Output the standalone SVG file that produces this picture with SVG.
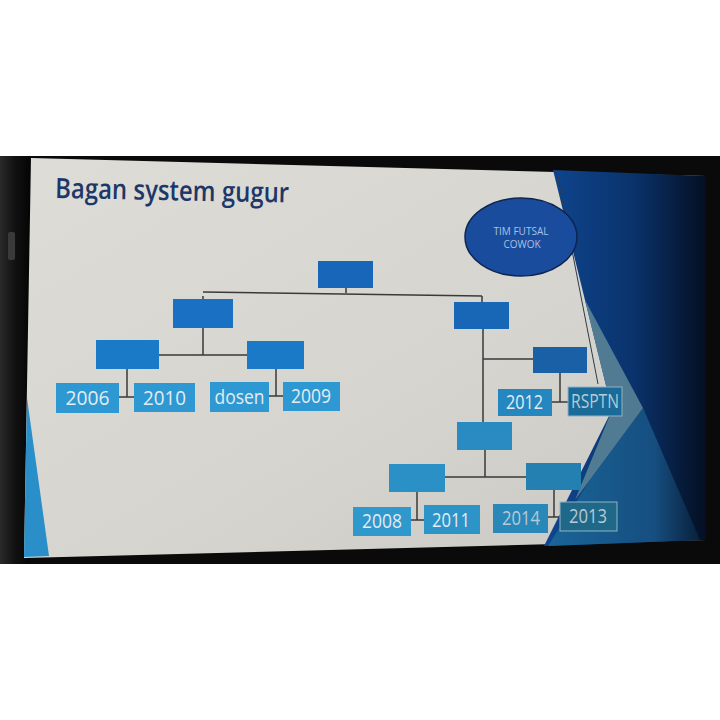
<svg xmlns="http://www.w3.org/2000/svg" width="720" height="720" viewBox="0 0 720 720">
<defs>
<linearGradient id="slideBg" x1="0" y1="0" x2="1" y2="1">
<stop offset="0" stop-color="#dedcd7"/>
<stop offset="0.6" stop-color="#d6d4cf"/>
<stop offset="1" stop-color="#c9c7c1"/>
</linearGradient>
<linearGradient id="darkBlue" x1="0" y1="0" x2="1" y2="0">
<stop offset="0" stop-color="#0f4690"/>
<stop offset="0.55" stop-color="#0a336c"/>
<stop offset="1" stop-color="#040f22"/>
</linearGradient>
<linearGradient id="midBlue" x1="0" y1="0" x2="1" y2="0">
<stop offset="0" stop-color="#1a6598"/>
<stop offset="0.7" stop-color="#164e80"/>
<stop offset="1" stop-color="#08203a"/>
</linearGradient>
<linearGradient id="frame" x1="0" y1="0" x2="1" y2="0">
<stop offset="0" stop-color="#2a2a2a"/>
<stop offset="0.5" stop-color="#111"/>
<stop offset="1" stop-color="#050505"/>
</linearGradient>
<style>
.lbl{font-family:"Open Sans","Liberation Sans",sans-serif;font-size:20px;fill:#e4ecf3;text-anchor:middle}
.dim{fill:#b7cad6}
.con{stroke:#3a3a3a;stroke-width:1.5;fill:none}
.top{fill:#1766ba}
.mid{fill:#1a70c2}
.leaf{fill:#2e98d2}
</style>
</defs>
<rect width="720" height="720" fill="#ffffff"/>
<rect x="0" y="156" width="720" height="408" fill="#0a0a0a"/>
<rect x="0" y="156" width="30" height="408" fill="url(#frame)"/>
<rect x="8" y="232" width="7" height="28" rx="2" fill="#3a3a3a"/>
<polygon points="31,158 706,176 706,540 24,558" fill="url(#slideBg)"/>
<polygon points="553,170 706,176 706,540 544,546 612,410" fill="url(#darkBlue)"/>
<polygon points="643,408 700,540 548,546 590,480" fill="url(#midBlue)"/>
<polygon points="585,300 643,408 575,500 612,410" fill="#5d8798" opacity="0.85"/>
<polygon points="27,398 49,556 24,557" fill="#2a8fc8"/>
<line x1="557" y1="173" x2="598" y2="384" stroke="#2f3b48" stroke-width="1"/>
<text x="55" y="198" font-family="'Open Sans','Liberation Sans',sans-serif" font-size="28" font-weight="600" fill="#1c3768" textLength="234" lengthAdjust="spacingAndGlyphs" transform="rotate(1.1 55 198)">Bagan system gugur</text>
<g id="connectors">
<path class="con" d="M346,287 V293 M203,292 L482,296 M203,299 V296 M482,296 V302"/>
<path class="con" d="M203,328 V355 M159,355 H247"/>
<path class="con" d="M127,369 V397 M119,397 H134"/>
<path class="con" d="M276,369 V396 M269,396 H283"/>
<path class="con" d="M483,329 V422 M483,359 H533"/>
<path class="con" d="M560,373 V402 M552,402 H568"/>
<path class="con" d="M485,450 V477 M445,477 H526"/>
<path class="con" d="M417,492 V520 M411,520 H424"/>
<path class="con" d="M554,490 V517 M548,517 H560"/>
</g>
<g id="final"><rect class="top" x="318" y="261" width="55" height="27"/></g>
<g id="semi-left"><rect class="mid" x="173" y="299" width="60" height="29"/></g>
<g id="semi-right"><rect fill="#1767b6" x="454" y="302" width="55" height="27"/></g>
<g id="qf-a"><rect fill="#1b7ac8" x="96" y="340" width="63" height="29"/></g>
<g id="qf-b"><rect fill="#1b7ac8" x="247" y="341" width="57" height="28"/></g>
<g id="qf-c"><rect fill="#1a60a6" x="533" y="347" width="54" height="26"/></g>
<g id="qf-d"><rect fill="#2a8bc2" x="457" y="422" width="55" height="28"/></g>
<g id="r16-e"><rect fill="#2a90c6" x="389" y="464" width="56" height="28"/></g>
<g id="r16-f"><rect fill="#2480b0" x="526" y="463" width="55" height="27"/></g>
<g id="t2006"><rect class="leaf" x="56" y="383" width="63" height="30"/><text class="lbl" x="87.5" y="405" textLength="44" lengthAdjust="spacingAndGlyphs">2006</text></g>
<g id="t2010"><rect class="leaf" x="134" y="383" width="61" height="29"/><text class="lbl" x="164.5" y="405" textLength="43" lengthAdjust="spacingAndGlyphs">2010</text></g>
<g id="tdosen"><rect class="leaf" x="210" y="382" width="59" height="30"/><text class="lbl" x="239.5" y="404" textLength="50" lengthAdjust="spacingAndGlyphs">dosen</text></g>
<g id="t2009"><rect class="leaf" x="283" y="382" width="57" height="29"/><text class="lbl" x="311" y="403" textLength="40" lengthAdjust="spacingAndGlyphs">2009</text></g>
<g id="t2012"><rect fill="#2587c0" x="498" y="389" width="54" height="27"/><text class="lbl" x="524.5" y="409" font-size="18" textLength="37" lengthAdjust="spacingAndGlyphs">2012</text></g>
<g id="trsptn"><rect fill="#1a6a9a" stroke="#8fb2c6" stroke-width="1" x="568" y="387" width="54" height="29"/><text class="lbl dim" x="595" y="408" font-size="18" textLength="48" lengthAdjust="spacingAndGlyphs">RSPTN</text></g>
<g id="t2008"><rect fill="#2f98cc" x="353" y="507" width="58" height="29"/><text class="lbl" x="382" y="528" font-size="19" textLength="40" lengthAdjust="spacingAndGlyphs">2008</text></g>
<g id="t2011"><rect fill="#2d94c8" x="424" y="505" width="56" height="29"/><text class="lbl" x="451" y="527" font-size="19" textLength="38" lengthAdjust="spacingAndGlyphs">2011</text></g>
<g id="t2014"><rect fill="#2a88b8" x="493" y="504" width="55" height="29"/><text class="lbl dim" x="521" y="525" font-size="19" textLength="38" lengthAdjust="spacingAndGlyphs">2014</text></g>
<g id="t2013"><rect fill="#1f6888" stroke="#8fb2c6" stroke-width="1" x="560" y="502" width="57" height="29"/><text class="lbl dim" x="588" y="523" font-size="19" textLength="38" lengthAdjust="spacingAndGlyphs">2013</text></g>
<g id="tim-futsal">
<ellipse cx="521" cy="237" rx="56" ry="39" fill="#1a4c9e" stroke="#0d2550" stroke-width="1.5"/>
<text x="521" y="235" font-family="'Open Sans','Liberation Sans',sans-serif" font-size="10" fill="#a9c2e2" text-anchor="middle">TIM FUTSAL</text>
<text x="522" y="248" font-family="'Open Sans','Liberation Sans',sans-serif" font-size="10" fill="#a9c2e2" text-anchor="middle">COWOK</text>
</g>
</svg>
